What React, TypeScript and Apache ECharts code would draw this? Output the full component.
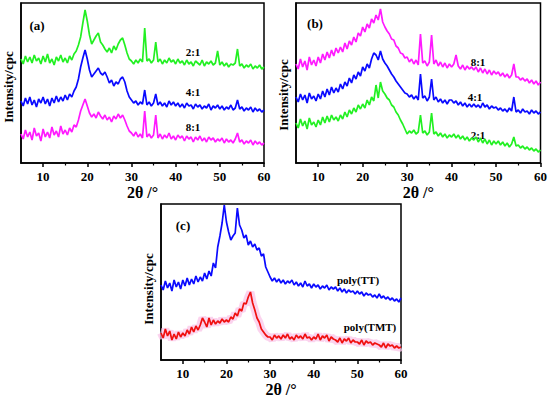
import React, { useEffect, useRef } from "react";
import * as echarts from "echarts";

// 2θ sampling grid (degrees), 5 → 60 step 0.5
const theta: number[] = [];
for (let i = 0; i <= 110; i++) theta.push(5 + i * 0.5);

const majorTicks = [10, 20, 30, 40, 50, 60];
const minorTicks = [15, 25, 35, 45, 55];

// Panel (a)
const a21 = [
  104, 99, 107, 101, 106, 100, 108, 102, 105, 99,
  107, 101, 109, 100, 104, 98, 106, 102, 108, 101,
  105, 100, 107, 103, 109, 112, 118, 126, 140, 153,
  142, 128, 119, 123, 127, 130, 121, 118, 114, 111,
  115, 110, 117, 113, 119, 123, 125, 118, 110, 104,
  102, 99, 103, 100, 104, 101, 135, 102, 104, 100,
  103, 121, 101, 104, 99, 103, 100, 105, 101, 103,
  99, 104, 100, 102, 98, 103, 99, 101, 97, 102,
  100, 98, 103, 97, 101, 99, 102, 98, 100, 112,
  98, 101, 97, 100, 96, 99, 98, 100, 114, 97,
  99, 95, 98, 96, 99, 94, 97, 95, 98, 94,
  96,
];
const a41 = [
  62, 57, 65, 59, 66, 58, 63, 56, 64, 60,
  66, 59, 64, 57, 65, 60, 67, 61, 66, 62,
  68, 63, 69, 66, 72, 76, 84, 96, 105, 113,
  104, 93, 86, 89, 92, 95, 90, 88, 91, 86,
  80, 83, 77, 81, 79, 84, 86, 81, 72, 66,
  63, 60, 62, 58, 61, 59, 73, 58, 61, 57,
  60, 69, 58, 61, 57, 60, 56, 62, 58, 61,
  57, 60, 56, 59, 55, 60, 57, 58, 54, 59,
  56, 58, 54, 57, 55, 59, 53, 57, 55, 58,
  54, 57, 53, 56, 54, 58, 53, 55, 63, 54,
  56, 52, 55, 53, 56, 51, 55, 52, 54, 51,
  53,
];
const a81 = [
  29, 24, 33, 26, 31, 23, 35, 27, 30, 22,
  34, 26, 31, 25, 36, 28, 32, 26, 37, 29,
  33, 28, 35, 31, 38, 36, 43, 52, 58, 64,
  57, 50, 46, 49, 45, 51, 47, 44, 48, 43,
  46, 41, 47, 44, 49, 45, 48, 43, 37, 32,
  30, 27, 31, 26, 29, 25, 52, 26, 29, 25,
  28, 48, 25, 29, 24, 28, 25, 30, 24, 27,
  23, 28, 25, 27, 22, 27, 24, 26, 21, 26,
  23, 27, 22, 25, 21, 26, 23, 25, 21, 24,
  22, 25, 20, 24, 21, 23, 20, 24, 30, 21,
  23, 19, 22, 20, 23, 18, 22, 19, 21, 18,
  20,
];

// Panel (b)
const b81 = [
  99, 94, 104, 96, 102, 93, 106, 98, 103, 97,
  106, 100, 109, 103, 111, 105, 113, 107, 115, 110,
  116, 111, 120, 114, 122, 118, 126, 121, 130, 127,
  136, 131, 139, 135, 144, 140, 148, 143, 154, 141,
  136, 132, 129, 124, 123, 117, 115, 110, 109, 105,
  106, 101, 104, 99, 103, 98, 129, 100, 102, 97,
  101, 128, 99, 103, 97, 101, 96, 100, 95, 99,
  96, 99, 108, 97, 94, 98, 93, 97, 94, 96,
  93, 96, 91, 95, 90, 94, 89, 93, 88, 92,
  89, 91, 87, 90, 86, 89, 85, 88, 99, 86,
  86, 83, 85, 82, 84, 80, 83, 79, 82, 78,
  81,
];
const b41 = [
  66, 61, 69, 63, 68, 60, 70, 64, 67, 62,
  69, 64, 72, 66, 74, 68, 76, 70, 75, 71,
  79, 74, 81, 77, 85, 80, 88, 84, 91, 87,
  96, 92, 99, 95, 104, 110, 108, 103, 112, 104,
  100, 97, 93, 89, 86, 82, 79, 76, 73, 70,
  69, 66, 68, 64, 67, 63, 89, 65, 67, 62,
  66, 84, 63, 66, 61, 64, 60, 63, 59, 63,
  63, 60, 62, 58, 61, 57, 60, 56, 59, 56,
  59, 56, 58, 55, 60, 56, 58, 54, 57, 55,
  56, 53, 55, 52, 54, 51, 55, 52, 66, 51,
  53, 50, 54, 51, 52, 49, 53, 50, 52, 49,
  51,
];
const b21 = [
  40, 35, 44, 37, 42, 34, 45, 38, 41, 36,
  43, 38, 46, 40, 47, 41, 48, 43, 46, 42,
  48, 44, 51, 46, 53, 49, 55, 51, 58, 54,
  59, 55, 63, 58, 66, 62, 78, 65, 81, 72,
  69, 65, 63, 58, 56, 51, 48, 43, 39, 34,
  29, 32, 30, 33, 29, 31, 48, 30, 32, 28,
  31, 50, 29, 31, 27, 30, 26, 29, 25, 28,
  26, 29, 25, 28, 24, 27, 23, 26, 22, 25,
  23, 26, 21, 25, 20, 24, 19, 23, 18, 22,
  19, 22, 18, 21, 17, 20, 16, 19, 26, 17,
  18, 15, 17, 14, 16, 13, 15, 12, 14, 11,
  13,
];

// Panel (c)
const cTT = [
  75, 70, 79, 72, 77, 69, 80, 73, 78, 71,
  80, 74, 82, 75, 81, 76, 84, 78, 83, 79,
  87, 81, 89, 84, 97, 92, 113, 124, 137, 155,
  138, 128, 120, 124, 127, 152, 135, 130, 122, 125,
  115, 119, 113, 116, 110, 112, 104, 106, 93, 88,
  83, 79, 82, 78, 81, 77, 80, 76, 79, 77,
  80, 75, 78, 74, 77, 73, 79, 74, 76, 72,
  76, 73, 75, 71, 74, 72, 75, 70, 73, 71,
  73, 69, 72, 68, 71, 67, 70, 68, 69, 66,
  69, 66, 68, 64, 67, 65, 66, 63, 65, 62,
  66, 62, 64, 61, 63, 60, 62, 59, 61, 58,
  62,
];
const cTMT = [
  27, 22, 31, 24, 29, 20, 26, 21, 28, 23,
  27, 24, 30, 26, 33, 28, 34, 30, 35, 42,
  38, 33, 42, 35, 40, 36, 39, 37, 41, 38,
  40, 38, 43, 41, 47, 44, 51, 49, 57, 56,
  63, 68, 57, 50, 42, 38, 31, 28, 25, 23,
  23, 20, 25, 22, 24, 21, 25, 22, 26, 21,
  23, 20, 25, 22, 24, 21, 26, 22, 23, 20,
  23, 21, 26, 20, 24, 22, 25, 19, 23, 21,
  20, 18, 22, 17, 21, 19, 22, 17, 20, 18,
  18, 16, 20, 15, 19, 17, 18, 15, 17, 16,
  15, 13, 17, 12, 16, 14, 15, 12, 14, 12,
  13,
];

const GREEN = "#22f022";
const BLUE = "#0a0aff";
const MAGENTA = "#ff1aff";
const RED = "#f01010";
const FONT = "'Liberation Serif', 'Times New Roman', serif";

const grids = [
  { left: 21, top: 3, width: 243, height: 160, ymax: 160 },
  { left: 296, top: 3, width: 245, height: 160, ymax: 160 },
  { left: 161, top: 204, width: 240, height: 156, ymax: 156 },
];

function pairs(vals: number[]) {
  return theta.map((t, i) => [t, vals[i]]);
}

export default function App() {
  const ref = useRef<HTMLDivElement>(null);
  useEffect(() => {
    if (!ref.current) return;
    const chart = echarts.init(ref.current, undefined, { renderer: "svg" });
    const xAxes: any[] = [];
    const yAxes: any[] = [];
    grids.forEach((g, gi) => {
      xAxes.push({
        gridIndex: gi,
        type: "value",
        min: 5,
        max: 60,
        interval: 5,
        position: "bottom",
        axisLine: { show: true, onZero: false, lineStyle: { color: "#000", width: 1.5 } },
        axisTick: {
          show: true,
          inside: false,
          length: 4,
          customValues: majorTicks,
          lineStyle: { color: "#000", width: 1.5 },
        },
        axisLabel: {
          customValues: majorTicks,
          color: "#000",
          fontFamily: FONT,
          fontWeight: "bold",
          fontSize: 13,
          margin: 7,
        },
        splitLine: { show: false },
        name: "2θ /°",
        nameLocation: "middle",
        nameGap: 21,
        nameTextStyle: { color: "#000", fontFamily: FONT, fontWeight: "bold", fontSize: 16 },
      });
      xAxes.push({
        gridIndex: gi,
        type: "value",
        min: 5,
        max: 60,
        interval: 5,
        position: "bottom",
        axisLine: { show: false, onZero: false },
        axisTick: {
          show: true,
          inside: false,
          length: 2.5,
          customValues: minorTicks,
          lineStyle: { color: "#000", width: 1.2 },
        },
        axisLabel: { show: false },
        splitLine: { show: false },
      });
      yAxes.push({
        gridIndex: gi,
        type: "value",
        min: 0,
        max: g.ymax,
        axisLine: { show: true, lineStyle: { color: "#000", width: 1.5 } },
        axisTick: { show: false },
        axisLabel: { show: false },
        splitLine: { show: false },
      });
    });

    const line = (name: string, gi: number, vals: number[], color: string, width = 1.7, opacity = 1) => ({
      name,
      type: "line",
      xAxisIndex: gi * 2,
      yAxisIndex: gi,
      data: pairs(vals),
      symbol: "none",
      showSymbol: false,
      silent: true,
      lineStyle: { color, width, opacity },
    });

    const txt = (text: string, x: number, y: number, size: number, extra: any = {}) => ({
      type: "text",
      x,
      y,
      silent: true,
      ...extra,
      style: {
        text,
        fill: "#000",
        font: `bold ${size}px ${FONT}`,
        textAlign: "center",
        textVerticalAlign: "middle",
        ...(extra.style || {}),
      },
    });

    chart.setOption({
      animation: false,
      backgroundColor: "#fff",
      grid: grids.map((g) => ({
        left: g.left,
        top: g.top,
        width: g.width,
        height: g.height,
        show: true,
        borderColor: "#000",
        borderWidth: 1.5,
        backgroundColor: "transparent",
        containLabel: false,
      })),
      xAxis: xAxes,
      yAxis: yAxes,
      series: [
        line("2:1 (a)", 0, a21, GREEN),
        line("4:1 (a)", 0, a41, BLUE),
        line("8:1 (a)", 0, a81, MAGENTA),
        line("8:1 (b)", 1, b81, MAGENTA),
        line("4:1 (b)", 1, b41, BLUE),
        line("2:1 (b)", 1, b21, GREEN),
        line("poly(TT)", 2, cTT, BLUE),
        line("poly(TMT) halo", 2, cTMT, "#f9c4e8", 8, 0.75),
        line("poly(TMT)", 2, cTMT, RED),
      ],
      graphic: [
        txt("Intensity/cpc", 8, 87, 13, { rotation: Math.PI / 2 }),
        txt("Intensity/cpc", 283, 95, 13, { rotation: Math.PI / 2 }),
        txt("Intensity/cpc", 148, 289, 13, { rotation: Math.PI / 2 }),
        txt("(a)", 37, 25, 13),
        txt("(b)", 315, 23, 13),
        txt("(c)", 183, 225, 13),
        txt("2:1", 193, 52, 11),
        txt("4:1", 193, 92, 11),
        txt("8:1", 193, 127, 11),
        txt("8:1", 478, 62, 11),
        txt("4:1", 475, 97, 11),
        txt("2:1", 478, 135, 11),
        txt("poly(TT)", 358, 280, 11),
        txt("poly(TMT)", 370, 327, 11),
      ],
    });
    return () => chart.dispose();
  }, []);
  return (
    <div
      ref={ref}
      style={{ position: "absolute", left: 0, top: 0, width: 550, height: 399, background: "#fff" }}
    />
  );
}
